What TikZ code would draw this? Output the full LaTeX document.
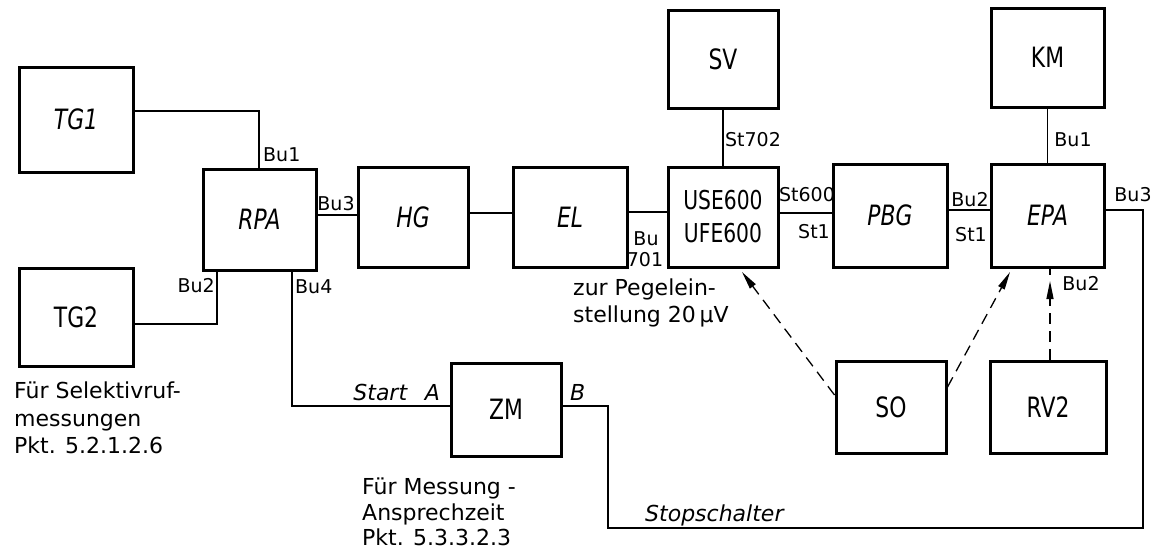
\documentclass[tikz,border=0pt]{standalone}
\usepackage{fontspec}
\setmainfont{DejaVu Sans}
\newfontfamily\blkfont{DejaVu Sans}[FakeStretch=0.78]
\usetikzlibrary{arrows.meta}
\begin{document}
\begin{tikzpicture}[x=1pt,y=-1pt,
  blk/.style={draw, line width=3pt, inner sep=0pt, font=\blkfont\fontsize{28}{30}\selectfont},
  wire/.style={line width=1.1pt},
  darr/.style={line width=1.3pt, dash pattern=on 11pt off 7pt, -{Triangle[length=18pt,width=7pt]}},
  lab/.style={font=\fontsize{19}{20}\selectfont, inner sep=0pt},
  note/.style={font=\fontsize{22}{26}\selectfont, inner sep=0pt, anchor=base west},
  ital/.style={font=\fontsize{22}{26}\selectfont\itshape, inner sep=0pt}
]
\useasboundingbox (0,0) rectangle (1166,550);

% blocks
\node[blk, minimum width=114pt, minimum height=105pt] (TG1) at (76,119.5) {\itshape TG1};
\node[blk, minimum width=114pt, minimum height=98pt]  (TG2) at (76,317) {TG2};
\node[blk, minimum width=113pt, minimum height=101pt] (RPA) at (259.5,219.5) {\itshape RPA};
\node[blk, minimum width=110pt, minimum height=100pt] (HG)  at (413,217) {\itshape HG};
\node[blk, minimum width=114pt, minimum height=100pt] (EL)  at (570,217) {\itshape EL};
\node[blk, minimum width=110pt, minimum height=100pt, align=center,
      font=\blkfont\fontsize{26}{33}\selectfont] (USE) at (723,217) {USE600\\UFE600};
\node[blk, minimum width=110pt, minimum height=98pt]  (SV)  at (723,59) {SV};
\node[blk, minimum width=114pt, minimum height=103pt] (PBG) at (890,215.5) {\itshape PBG};
\node[blk, minimum width=113pt, minimum height=103pt] (EPA) at (1047.5,215.5) {\itshape EPA};
\node[blk, minimum width=113pt, minimum height=99pt]  (KM)  at (1047.5,57.5) {KM};
\node[blk, minimum width=110pt, minimum height=93pt]  (ZM)  at (506,409.5) {ZM};
\node[blk, minimum width=110pt, minimum height=92pt]  (SO)  at (891,407) {SO};
\node[blk, minimum width=116pt, minimum height=92pt]  (RV2) at (1048,407) {RV2};

% corner coordinates for wires
\coordinate (c1) at (259,111);
\coordinate (c2) at (217,324);
\coordinate (c3) at (1143,210);
\coordinate (c4) at (1143,528);
\coordinate (c5) at (608,528);
\coordinate (c6) at (608,406);
\coordinate (c7) at (292,406);
\coordinate (t1) at (742,272);
\coordinate (t2) at (1010,272);
\coordinate (t3) at (1050,281);
\coordinate (t4) at (1050,275);

% wires
\draw[wire] (TG1.east |- c1) -- (c1) -- (RPA.north -| c1);
\draw[wire] (TG2.east |- c2) -- (c2) -- (RPA.south -| c2);
\draw[wire] (RPA.east |- 0,215) -- (HG.west |- 0,215);
\draw[wire] (HG.east |- 0,213) -- (EL.west |- 0,213);
\draw[wire] (EL.east |- 0,212) -- (USE.west |- 0,212);
\draw[wire] (SV.south) -- (USE.north);
\draw[wire] (USE.east |- 0,213) -- (PBG.west |- 0,213);
\draw[wire] (PBG.east |- 0,210) -- (EPA.west |- 0,210);
\draw[wire] (KM.south) -- (EPA.north);
\draw[wire] (EPA.east |- c3) -- (c3) -- (c4) -- (c5) -- (c6) -- (ZM.east |- c6);
\draw[wire] (RPA.south -| c7) -- (c7) -- (ZM.west |- c7);

% dashed arrows
\draw[darr] (SO.west |- 0,395) -- (t1);
\draw[darr] (SO.east |- 0,387) -- (t2);
\draw[darr] (RV2.north -| t3) -- (t3);
\draw[line width=1.3pt] (EPA.south -| t4) -- (t4);

% port labels
\node[lab, anchor=west] (l1) at (263,155) {Bu1};
\node[lab] (l2) at (336,204) {Bu3};
\node[lab, anchor=east] (l3) at (215,286) {Bu2};
\node[lab, anchor=west] (l4) at (295,287) {Bu4};
\node[lab] (l5) at (646,239) {Bu};
\node[lab] (l6) at (645,260) {701};
\node[lab] (l7) at (753,140) {St702};
\node[lab] (l8) at (807,195) {St600};
\node[lab] (l9) at (814,232) {St1};
\node[lab] (l10) at (970,200) {Bu2};
\node[lab] (l11) at (971,235) {St1};
\node[lab] (l12) at (1073,140) {Bu1};
\node[lab] (l13) at (1133,195) {Bu3};
\node[lab] (l14) at (1081,284) {Bu2};

% notes
\node[note] (n1) at (573,295) {zur Pegelein-};
\node[note] (n2) at (573,322) {stellung 20\,μV};
\node[note] (n3) at (14,398) {Für Selektivruf-};
\node[note] (n4) at (14,426) {messungen};
\node[note] (n5) at (14,453) {Pkt. 5.2.1.2.6};
\node[note] (n6) at (362,494) {Für Messung -};
\node[note] (n7) at (362,520) {Ansprechzeit};
\node[note] (n8) at (362,545) {Pkt. 5.3.3.2.3};
\node[ital, anchor=base east] (sa) at (440,400) {Start\hspace{0.8em}A};
\node[ital, anchor=base west] (sb) at (570,400) {B};
\node[ital, anchor=base west] (st) at (645,521) {Stopschalter};
\end{tikzpicture}
\end{document}
